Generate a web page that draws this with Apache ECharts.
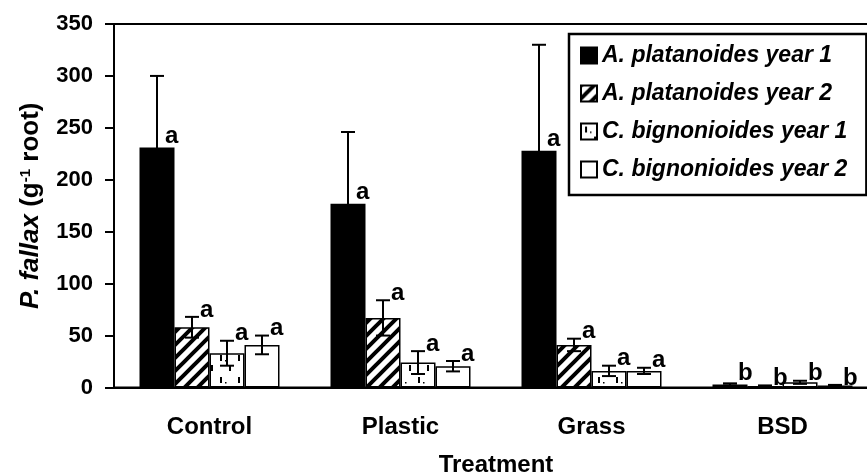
<!DOCTYPE html>
<html>
<head>
<meta charset="utf-8">
<script src="https://cdn.jsdelivr.net/npm/echarts@6/dist/echarts.min.js"></script>
<style>
  html, body { margin: 0; padding: 0; background: #fff; }
  #chart { width: 867px; height: 474px; }
</style>
</head>
<body>
<div id="chart"></div>
<script>
const treatments = ['Control', 'Plastic', 'Grass', 'BSD'];
const seriesNames = ['A. platanoides year 1', 'A. platanoides year 2', 'C. bignonioides year 1', 'C. bignonioides year 2'];

// means, per series, in treatment order
const apYear1 = [231, 177, 228, 3];
const apYear2 = [58, 67, 41, 1.5];
const cbYear1 = [33, 24, 16, 5];
const cbYear2 = [41, 20.5, 16, 2];

// error bar half-widths
const apYear1Err = [69, 69, 102, 1];
const apYear2Err = [10, 17, 6, 0.5];
const cbYear1Err = [12, 11, 5, 1.5];
const cbYear2Err = [9, 5, 3, 0.5];

// significance letters
const apYear1Sig = ['a', 'a', 'a', 'b'];
const apYear2Sig = ['a', 'a', 'a', 'b'];
const cbYear1Sig = ['a', 'a', 'a', 'b'];
const cbYear2Sig = ['a', 'a', 'a', 'b'];

const yTicks = { min: 0, max: 350, interval: 50 };

const means = [apYear1, apYear2, cbYear1, cbYear2];
const errs = [apYear1Err, apYear2Err, cbYear1Err, cbYear2Err];
const sigs = [apYear1Sig, apYear2Sig, cbYear1Sig, cbYear2Sig];

const FONT = '"Liberation Sans", Arial, sans-serif';
const BAR_W = 35;

function hatchPattern() {
  const c = document.createElement('canvas');
  c.width = c.height = 13;
  const g = c.getContext('2d');
  g.fillStyle = '#fff';
  g.fillRect(0, 0, 13, 13);
  g.strokeStyle = '#000';
  g.lineWidth = 4;
  g.beginPath();
  g.moveTo(-4, 17); g.lineTo(17, -4);
  g.moveTo(-4, 4); g.lineTo(4, -4);
  g.moveTo(9, 17); g.lineTo(17, 9);
  g.stroke();
  return c;
}

function dashPattern() {
  const c = document.createElement('canvas');
  c.width = 18; c.height = 22;
  const g = c.getContext('2d');
  g.fillStyle = '#fff';
  g.fillRect(0, 0, 18, 22);
  g.fillStyle = '#000';
  g.fillRect(4, 3, 2, 6);
  g.fillRect(13, 13, 2, 6);
  g.fillRect(9, 8, 1.5, 1.5);
  return c;
}

const fills = [
  '#000',
  { image: hatchPattern(), repeat: 'repeat' },
  { image: dashPattern(), repeat: 'repeat' },
  '#fff'
];

const barSeries = seriesNames.map((name, i) => ({
  name,
  type: 'bar',
  data: means[i],
  barWidth: BAR_W,
  barGap: '0%',
  itemStyle: { color: fills[i], borderColor: '#000', borderWidth: 1.5 }
}));

const errData = [];
means.forEach((arr, s) => arr.forEach((v, c) => errData.push([c, s, v, errs[s][c]])));

const errSeries = {
  type: 'custom',
  z: 5,
  silent: true,
  encode: { x: 0, y: 2 },
  data: errData,
  renderItem(params, api) {
    const c = api.value(0), s = api.value(1), v = api.value(2), e = api.value(3);
    const x = api.coord([c, v])[0] + (s - 1.5) * BAR_W;
    const yBar = api.coord([c, v])[1];
    const yTop = api.coord([c, v + e])[1];
    const yLow = api.coord([c, Math.max(v - e, 0)])[1];
    const cap = 7;
    const line = (x1, y1, x2, y2) => ({
      type: 'line',
      shape: { x1, y1, x2, y2 },
      style: { stroke: '#000', lineWidth: 2 }
    });
    const ty = s === 0 ? yBar + 1 : yTop + 5;
    return {
      type: 'group',
      children: [
        line(x, yTop, x, yLow),
        line(x - cap, yTop, x + cap, yTop),
        line(x - cap, yLow, x + cap, yLow),
        {
          type: 'text',
          x: x + 8,
          y: ty,
          style: {
            text: sigs[s][c],
            fill: '#000',
            font: 'bold 24px ' + FONT,
            align: 'left',
            verticalAlign: 'bottom'
          }
        }
      ]
    };
  }
};

const chart = echarts.init(document.getElementById('chart'));
chart.setOption({
  animation: false,
  backgroundColor: '#fff',
  textStyle: { fontFamily: FONT, color: '#000' },
  grid: {
    left: 114, top: 24, width: 764, bottom: 86.5,
    outerBoundsMode: 'none',
    containLabel: false,
    show: true, borderColor: '#000', borderWidth: 2
  },
  legend: {
    data: seriesNames,
    orient: 'vertical',
    left: 569, top: 34,
    padding: [10, 19, 14, 11],
    itemWidth: 16, itemHeight: 16,
    itemGap: 15,
    borderColor: '#000', borderWidth: 2.5,
    backgroundColor: '#fff',
    icon: 'rect',
    textStyle: { fontFamily: FONT, fontSize: 23, fontWeight: 'bold', fontStyle: 'italic', color: '#000' }
  },
  xAxis: {
    type: 'category',
    data: treatments,
    name: 'Treatment',
    nameLocation: 'middle',
    nameGap: 66,
    nameTextStyle: { fontFamily: FONT, fontSize: 24, fontWeight: 'bold', color: '#000' },
    axisLine: { lineStyle: { color: '#000', width: 2 } },
    axisTick: { length: 9, lineStyle: { color: '#000', width: 2 } },
    axisLabel: { fontFamily: FONT, fontSize: 24, fontWeight: 'bold', color: '#000', margin: 28 }
  },
  yAxis: {
    type: 'value',
    min: yTicks.min, max: yTicks.max, interval: yTicks.interval,
    name: '{i|P. fallax} (g{s|-1} root)',
    nameLocation: 'middle',
    nameGap: 70,
    nameRotate: 90,
    nameTextStyle: {
      fontFamily: FONT, fontSize: 26, fontWeight: 'bold', color: '#000',
      rich: {
        i: { fontFamily: FONT, fontSize: 26, fontWeight: 'bold', fontStyle: 'italic', color: '#000' },
        s: { fontFamily: FONT, fontSize: 15, fontWeight: 'bold', color: '#000', verticalAlign: 'top', lineHeight: 26 }
      }
    },
    axisLine: { show: true, lineStyle: { color: '#000', width: 2 } },
    axisTick: { show: true, length: 9, lineStyle: { color: '#000', width: 2 } },
    splitLine: { show: false },
    axisLabel: { fontFamily: FONT, fontSize: 22, fontWeight: 'bold', color: '#000', margin: 21 }
  },
  series: [...barSeries, errSeries]
});
</script>
</body>
</html>
